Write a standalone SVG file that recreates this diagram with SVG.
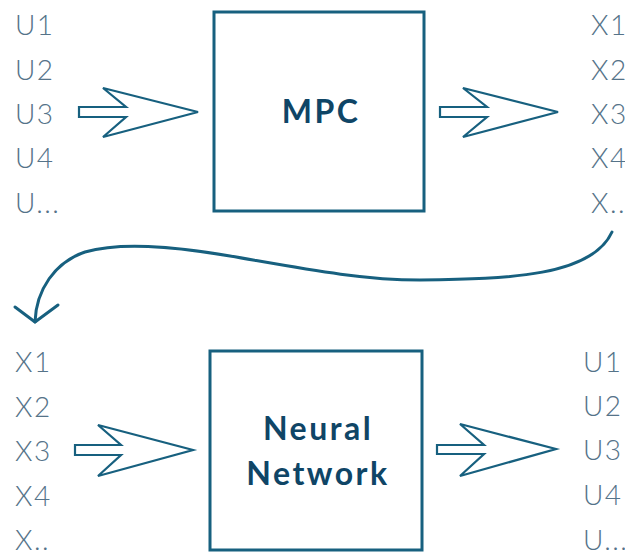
<svg xmlns="http://www.w3.org/2000/svg" width="625" height="556" viewBox="0 0 625 556">
<style>
.lbl{font-family:Lato,"Open Sans","Liberation Sans",sans-serif;font-weight:300;font-size:28px;letter-spacing:1.5px;fill:#557389}
.box{fill:#fff;stroke:#17607f;stroke-width:3}
.ttl{font-family:Lato,"Liberation Sans",sans-serif;font-weight:700;font-size:32px;letter-spacing:2.5px;fill:#0f4566;text-anchor:middle}
.arr{fill:#fff;stroke:#17607f;stroke-width:2.2;stroke-linejoin:miter}
.conn{fill:none;stroke:#17607f;stroke-width:3;stroke-linecap:round;stroke-linejoin:round}
</style>
<g id="inputs-u-top">
<text class="lbl" x="15" y="35">U1</text>
<text class="lbl" x="15" y="80">U2</text>
<text class="lbl" x="15" y="124">U3</text>
<text class="lbl" x="15" y="168">U4</text>
<text class="lbl" x="15" y="213">U...</text>
</g>
<g id="mpc">
<rect class="box" x="214" y="12" width="210" height="199"/>
<text class="ttl" x="321" y="123">MPC</text>
</g>
<g id="outputs-x-top">
<text class="lbl" x="591" y="35">X1</text>
<text class="lbl" x="591" y="80">X2</text>
<text class="lbl" x="591" y="124">X3</text>
<text class="lbl" x="591" y="168">X4</text>
<text class="lbl" x="591" y="213">X..</text>
</g>
<g id="inputs-x-bottom">
<text class="lbl" x="15" y="372">X1</text>
<text class="lbl" x="15" y="417">X2</text>
<text class="lbl" x="15" y="461">X3</text>
<text class="lbl" x="15" y="506">X4</text>
<text class="lbl" x="15" y="550">X..</text>
</g>
<g id="neural-network">
<rect class="box" x="210" y="351" width="212" height="199"/>
<text class="ttl" x="318" y="440">Neural</text>
<text class="ttl" x="318" y="485">Network</text>
</g>
<g id="outputs-u-bottom">
<text class="lbl" x="583" y="372">U1</text>
<text class="lbl" x="583" y="416">U2</text>
<text class="lbl" x="583" y="460">U3</text>
<text class="lbl" x="583" y="505">U4</text>
<text class="lbl" x="583" y="550">U...</text>
</g>
<g id="connectors">
<polygon class="arr" points="79,107 126,107 103,88 198,112 103,137 126,117 79,117"/>
<polygon class="arr" points="440,107 487,107 463,88 558,112 463,137 487,117 440,117"/>
<polygon class="arr" points="75,445 121,445 98,425 193,450 98,476 121,455 75,455"/>
<polygon class="arr" points="437,445 484,445 460,424 556,449 460,476 484,454 437,454"/>
<path class="conn" d="M612,232 C592,276 510,279 420,280 C360,280 300,268 230,256 C170,246 120,242 85,252 C55,262 36,290 35,322"/>
<path class="conn" d="M15,307 L35,322 L58,305"/>
</g>
</svg>
